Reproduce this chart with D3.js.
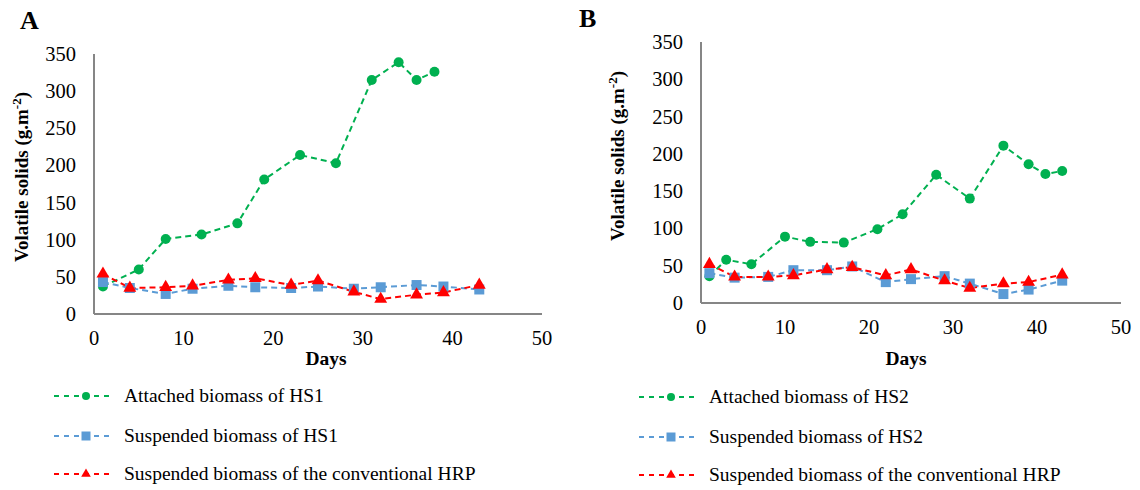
<!DOCTYPE html>
<html><head><meta charset="utf-8">
<script src="https://cdn.jsdelivr.net/npm/d3@7"></script>
<style>
body{margin:0;background:#fff;}
svg{display:block;font-family:"Liberation Serif","Times New Roman",serif;}
</style></head>
<body><svg id="chart" width="1140" height="490"></svg>
<script>
// ---- data ----
const xTicks = [0, 10, 20, 30, 40, 50];
const yTicks = [0, 50, 100, 150, 200, 250, 300, 350];

const daysAttachedA = [1, 5, 8, 12, 16, 19, 23, 27, 31, 34, 36, 38];
const attachedHS1   = [37, 60, 101, 107, 122, 181, 214, 203, 315, 339, 315, 326];
const daysSuspA     = [1, 4, 8, 11, 15, 18, 22, 25, 29, 32, 36, 39, 43];
const suspendedHS1  = [43, 35, 27, 34, 38, 36, 35, 37, 34, 36, 39, 37, 33];
const conventionalA = [54, 35, 36, 38, 46, 48, 39, 45, 30, 20, 26, 29, 39];

const daysAttachedB = [1, 3, 6, 10, 13, 17, 21, 24, 28, 32, 36, 39, 41, 43];
const attachedHS2   = [36, 58, 52, 89, 82, 81, 99, 119, 172, 140, 211, 186, 173, 177];
const daysSuspB     = [1, 4, 8, 11, 15, 18, 22, 25, 29, 32, 36, 39, 43];
const suspendedHS2  = [40, 34, 35, 44, 44, 49, 28, 32, 36, 26, 12, 18, 30];
const conventionalB = [52, 35, 35, 37, 45, 48, 37, 45, 30, 20, 26, 28, 38];

const legendA = ["Attached biomass of HS1", "Suspended biomass of HS1", "Suspended biomass of the conventional HRP"];
const legendB = ["Attached biomass of HS2", "Suspended biomass of HS2", "Suspended biomass of the conventional HRP"];

const colors = ["#00B050", "#5B9BD5", "#FF0000"];
const shapes = ["circle", "square", "triangle"];

const svg = d3.select("#chart");

function marker(g, shape, color, size) {
  let sym;
  if (shape === "circle") sym = d3.symbol(d3.symbolCircle, size * size * Math.PI / 4);
  else if (shape === "square") sym = d3.symbol(d3.symbolSquare, size * size);
  else sym = d3.symbol(d3.symbolTriangle, size * size * 0.5);
  return g.append("path").attr("d", sym()).attr("fill", color);
}

function panel(cfg) {
  const x = d3.scaleLinear().domain([0, 50]).range([cfg.x0, cfg.x1]);
  const y = d3.scaleLinear().domain([0, 350]).range([cfg.y0, cfg.y1]);
  const g = svg.append("g");

  // axis lines
  g.append("line").attr("x1", cfg.x0).attr("x2", cfg.x0).attr("y1", cfg.y1).attr("y2", cfg.y0)
    .attr("stroke", "#868686").attr("stroke-width", 2);
  g.append("line").attr("x1", cfg.x0).attr("x2", cfg.x1).attr("y1", cfg.y0).attr("y2", cfg.y0)
    .attr("stroke", "#868686").attr("stroke-width", 2);

  // tick labels
  g.selectAll(".yt").data(yTicks).enter().append("text")
    .attr("x", cfg.x0 - 18).attr("y", d => y(d)).attr("dy", "0.34em")
    .attr("text-anchor", "end").attr("font-size", 20.5).attr("fill", "#000").text(d => d);
  g.selectAll(".xt").data(xTicks).enter().append("text")
    .attr("x", d => x(d)).attr("y", cfg.y0 + 31)
    .attr("text-anchor", "middle").attr("font-size", 20.5).attr("fill", "#000").text(d => d);

  // axis titles
  g.append("text").attr("x", cfg.daysX).attr("y", 365).attr("text-anchor", "middle")
    .attr("font-size", 19.5).attr("font-weight", "bold").text("Days");
  const yl = g.append("text").attr("transform", `translate(${cfg.ylX},${cfg.ylY}) rotate(-90)`)
    .attr("text-anchor", "middle").attr("font-size", 19).attr("font-weight", "bold");
  yl.append("tspan").text("Volatile solids (g.m");
  yl.append("tspan").attr("dy", -7).attr("font-size", 13).text("-2");
  yl.append("tspan").attr("dy", 7).text(")");

  // panel letter
  g.append("text").attr("x", cfg.letterX).attr("y", cfg.letterY).attr("font-size", 26)
    .attr("font-weight", "bold").text(cfg.letter);

  // series
  const line = d3.line().x(d => x(d[0])).y(d => y(d[1]));
  cfg.series.forEach((s, i) => {
    const pts = s.days.map((d, k) => [d, s.vals[k]]);
    g.append("path").datum(pts).attr("d", line).attr("fill", "none")
      .attr("stroke", colors[i]).attr("stroke-width", 2).attr("stroke-dasharray", "6,4");
  });
  cfg.series.forEach((s, i) => {
    s.days.forEach((d, k) => {
      const m = marker(g, shapes[i], colors[i], shapes[i] === "triangle" ? 12 : 10);
      m.attr("transform", `translate(${x(d)},${y(s.vals[k])})`);
    });
  });

  // legend
  cfg.legend.forEach((name, i) => {
    const ly = cfg.legY[i];
    g.append("line").attr("x1", cfg.legX0).attr("x2", cfg.legX0 + 56).attr("y1", ly).attr("y2", ly)
      .attr("stroke", colors[i]).attr("stroke-width", 2).attr("stroke-dasharray", "5,5");
    const m = marker(g, shapes[i], colors[i], shapes[i] === "circle" ? 8 : 9);
    m.attr("transform", `translate(${cfg.legX0 + 32},${ly})`);
    g.append("text").attr("x", cfg.legX0 + 70).attr("y", ly).attr("dy", "0.32em")
      .attr("font-size", 19.5).text(name);
  });
}

panel({
  x0: 94, x1: 542, y0: 314, y1: 54, daysX: 326, ylX: 28, ylY: 177,
  letter: "A", letterX: 20, letterY: 29,
  legend: legendA, legX0: 54, legY: [396, 436, 474],
  series: [
    {days: daysAttachedA, vals: attachedHS1},
    {days: daysSuspA, vals: suspendedHS1},
    {days: daysSuspA, vals: conventionalA}
  ]
});
panel({
  x0: 701, x1: 1121, y0: 303, y1: 42, daysX: 906, ylX: 624, ylY: 156,
  letter: "B", letterX: 579, letterY: 27,
  legend: legendB, legX0: 639, legY: [397, 437, 475],
  series: [
    {days: daysAttachedB, vals: attachedHS2},
    {days: daysSuspB, vals: suspendedHS2},
    {days: daysSuspB, vals: conventionalB}
  ]
});
</script></body></html>
